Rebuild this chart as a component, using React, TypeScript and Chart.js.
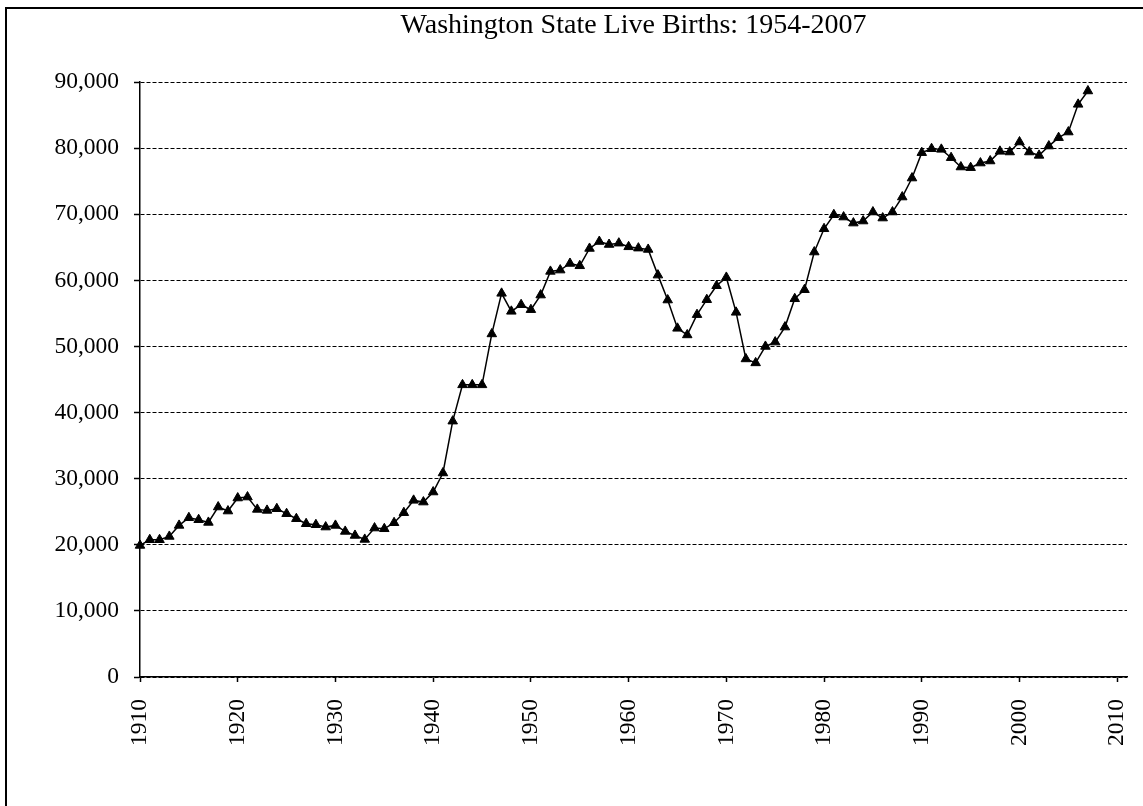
import React, { useEffect, useRef } from "react";
import { Chart, registerables } from "chart.js";

Chart.register(...registerables);

const FONT = '"Liberation Serif", "Times New Roman", Times, serif';

const chartTitle = "Washington State Live Births: 1954-2007";

const years = [
  1910, 1911, 1912, 1913, 1914, 1915, 1916, 1917, 1918, 1919,
  1920, 1921, 1922, 1923, 1924, 1925, 1926, 1927, 1928, 1929,
  1930, 1931, 1932, 1933, 1934, 1935, 1936, 1937, 1938, 1939,
  1940, 1941, 1942, 1943, 1944, 1945, 1946, 1947, 1948, 1949,
  1950, 1951, 1952, 1953, 1954, 1955, 1956, 1957, 1958, 1959,
  1960, 1961, 1962, 1963, 1964, 1965, 1966, 1967, 1968, 1969,
  1970, 1971, 1972, 1973, 1974, 1975, 1976, 1977, 1978, 1979,
  1980, 1981, 1982, 1983, 1984, 1985, 1986, 1987, 1988, 1989,
  1990, 1991, 1992, 1993, 1994, 1995, 1996, 1997, 1998, 1999,
  2000, 2001, 2002, 2003, 2004, 2005, 2006, 2007,
];

const births = [
  19900, 20760, 20760, 21260, 22930, 24090, 23790, 23380, 25710, 25100,
  27070, 27220, 25350, 25200, 25450, 24700, 23940, 23180, 23030, 22680,
  22930, 22020, 21410, 20810, 22530, 22420, 23330, 24850, 26720, 26460,
  27980, 30860, 38700, 44190, 44190, 44190, 51890, 58030, 55310, 56310,
  55560, 57770, 61350, 61550, 62550, 62200, 64820, 65870, 65420, 65620,
  65070, 64870, 64670, 60790, 57020, 52740, 51740, 54810, 57070, 59180,
  60440, 55160, 48110, 47510, 50000, 50660, 52930, 57210, 58580, 64280,
  67800, 69920, 69570, 68660, 68970, 70330, 69420, 70330, 72600, 75470,
  79310, 79910, 79810, 78550, 77140, 77040, 77740, 78050, 79510, 79410,
  80920, 79410, 78900, 80310, 81580, 82430, 86620, 88640,
];

const xTickYears = [1910, 1920, 1930, 1940, 1950, 1960, 1970, 1980, 1990, 2000, 2010];
const yTickValues = [0, 10000, 20000, 30000, 40000, 50000, 60000, 70000, 80000, 90000];

const titlePlugin = {
  id: "plotAreaTitle",
  afterDraw(chart: any) {
    const { ctx, chartArea } = chart;
    ctx.save();
    ctx.font = `normal 28px ${FONT}`;
    ctx.fillStyle = "#000";
    ctx.textAlign = "center";
    ctx.textBaseline = "middle";
    ctx.fillText(chartTitle, (chartArea.left + chartArea.right) / 2, 26);
    ctx.restore();
  },
};

export default function App() {
  const canvasRef = useRef<HTMLCanvasElement | null>(null);

  useEffect(() => {
    const canvas = canvasRef.current;
    if (!canvas) return;
    const points = years.map((yr, i) => ({ x: yr, y: births[i] }));
    const chart = new Chart(canvas, {
      type: "line",
      data: {
        datasets: [
          {
            data: points,
            borderColor: "#000",
            borderWidth: 1.5,
            pointStyle: "triangle",
            pointRadius: 5.5,
            pointBackgroundColor: "#000",
            pointBorderColor: "#000",
            pointBorderWidth: 1,
            tension: 0,
            fill: false,
            clip: false,
          } as any,
        ],
      },
      plugins: [titlePlugin],
      options: {
        responsive: false,
        animation: false,
        devicePixelRatio: 1,
        layout: { padding: { left: 0, right: 16, top: 82, bottom: 0 } },
        plugins: {
          legend: { display: false },
          tooltip: { enabled: false },
          title: { display: false },
        },
        scales: {
          x: {
            type: "linear",
            min: 1910,
            max: 2011,
            afterBuildTicks: (s: any) => {
              s.ticks = xTickYears.map((v) => ({ value: v }));
            },
            afterFit: (s: any) => {
              s.height = 129;
              s.paddingLeft = 0;
              s.paddingRight = 0;
            },
            grid: {
              drawOnChartArea: false,
              drawTicks: true,
              tickLength: 5,
              tickColor: "#000",
              tickWidth: 1.5,
              color: "#000",
            },
            border: { display: true, color: "#000", width: 1.5 },
            ticks: {
              autoSkip: false,
              maxRotation: 90,
              minRotation: 90,
              padding: 17,
              color: "#000",
              font: { family: FONT, size: 23.5 },
              callback: (v: any) => String(v),
            },
          },
          y: {
            min: 0,
            max: 90000,
            afterBuildTicks: (s: any) => {
              s.ticks = yTickValues.map((v) => ({ value: v }));
            },
            afterFit: (s: any) => {
              s.width = 140;
              s.paddingTop = 0;
              s.paddingBottom = 0;
            },
            grid: {
              color: "#000",
              lineWidth: 1,
              drawTicks: true,
              tickLength: 6,
              tickColor: "#000",
              tickWidth: 1.5,
              tickBorderDash: [],
            } as any,
            border: { display: true, color: "#000", width: 1.5, dash: [4, 2] },
            ticks: {
              padding: 15,
              color: "#000",
              font: { family: FONT, size: 23.5 },
              callback: (v: any) => Number(v).toLocaleString("en-US"),
            },
          },
        },
      } as any,
    });
    return () => chart.destroy();
  }, []);

  return (
    <div
      style={{
        position: "fixed",
        left: 0,
        top: 0,
        width: 1143,
        height: 806,
        overflow: "hidden",
        background: "#fff",
      }}
    >
      <div
        style={{
          position: "absolute",
          left: 5,
          top: 7,
          width: 2000,
          height: 2000,
          borderLeft: "2px solid #000",
          borderTop: "2px solid #000",
        }}
      />
      <canvas
        ref={canvasRef}
        width={1143}
        height={806}
        style={{ position: "absolute", left: 0, top: 0, display: "block" }}
      />
    </div>
  );
}
